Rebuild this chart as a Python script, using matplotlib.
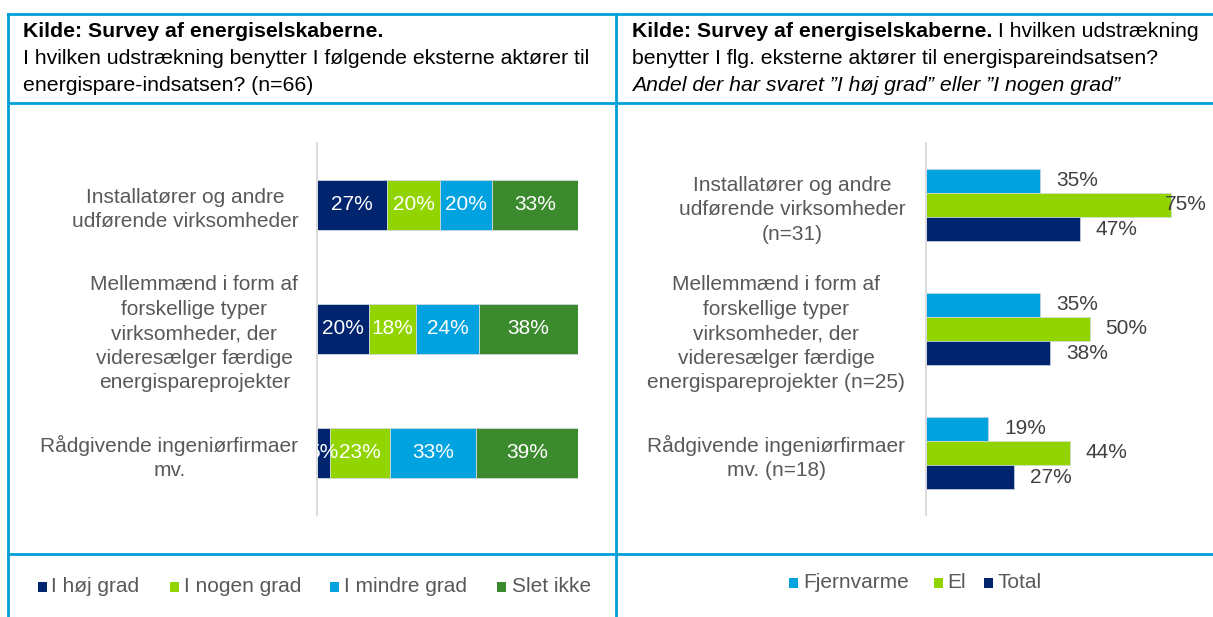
import matplotlib
matplotlib.use("Agg")
import matplotlib.pyplot as plt
from matplotlib.lines import Line2D
from matplotlib.patches import Rectangle

# ─── Data ────────────────────────────────────────────────────────────────────
left_categories = [
    "Installatører og andre\nudførende virksomheder",
    "Mellemmænd i form af\nforskellige typer\nvirksomheder, der\nvideresælger færdige\nenergispareprojekter",
    "Rådgivende ingeniørfirmaer\nmv.",
]
left_series = ["I høj grad", "I nogen grad", "I mindre grad", "Slet ikke"]
hoj_grad = [27, 20, 5]
nogen_grad = [20, 18, 23]
mindre_grad = [20, 24, 33]
slet_ikke = [33, 38, 39]

right_categories = [
    "Installatører og andre\nudførende virksomheder\n(n=31)",
    "Mellemmænd i form af\nforskellige typer\nvirksomheder, der\nvideresælger færdige\nenergispareprojekter (n=25)",
    "Rådgivende ingeniørfirmaer\nmv. (n=18)",
]
right_series = ["Fjernvarme", "El", "Total"]
fjernvarme = [35, 35, 19]
el = [75, 50, 44]
total = [47, 38, 27]

# ─── Style ───────────────────────────────────────────────────────────────────
NAVY = "#00256E"
LIME = "#92D400"
CYAN = "#00A3E0"
GREEN = "#3C8A2E"
FRAME = "#009FDA"
LABEL_GRAY = "#595959"
VALUE_GRAY = "#404040"
AXIS_GRAY = "#D9D9D9"

HEAD_FS = 15.3
CAT_FS = 15
VAL_FS = 15
LEG_FS = 15

plt.rcParams["font.family"] = ["Liberation Sans", "DejaVu Sans"]

W, H = 1213, 617
fig = plt.figure(figsize=(W / 100, H / 100), dpi=100)


def fx(x):
    return x / W


def fy(y):
    return 1 - y / H


def frame_line(x0, y0, x1, y1):
    fig.add_artist(Line2D([fx(x0), fx(x1)], [fy(y0), fy(y1)],
                          transform=fig.transFigure, color=FRAME, lw=2.0))


# ─── Frame ───────────────────────────────────────────────────────────────────
frame_line(8, 14, W, 14)
frame_line(8, 103, W, 103)
frame_line(8, 554, W, 554)
frame_line(8, 14, 8, H)
frame_line(616, 14, 616, H)

# ─── Headers ─────────────────────────────────────────────────────────────────
BASE = [37, 64, 91]
fig.text(fx(23), fy(BASE[0]), "Kilde: Survey af energiselskaberne.",
         fontsize=HEAD_FS, fontweight="bold", va="baseline", color="black")
fig.text(fx(23), fy(BASE[1]), "I hvilken udstrækning benytter I følgende eksterne aktører til",
         fontsize=HEAD_FS, va="baseline", color="black")
fig.text(fx(23), fy(BASE[2]), "energispare-indsatsen? (n=66)",
         fontsize=HEAD_FS, va="baseline", color="black")

t_bold = fig.text(fx(632), fy(BASE[0]), "Kilde: Survey af energiselskaberne.",
                  fontsize=HEAD_FS, fontweight="bold", va="baseline", color="black")
fig.text(fx(632), fy(BASE[1]), "benytter I flg. eksterne aktører til energispareindsatsen?",
         fontsize=HEAD_FS, va="baseline", color="black")
fig.text(fx(632), fy(BASE[2]), "Andel der har svaret ”I høj grad” eller ”I nogen grad”",
         fontsize=HEAD_FS, fontstyle="italic", va="baseline", color="black")

# regular continuation right after the bold part on the same baseline
fig.canvas.draw()
bb = t_bold.get_window_extent()
fig.text(bb.x1 / W, fy(BASE[0]), " I hvilken udstrækning", fontsize=HEAD_FS,
         va="baseline", color="black")

# ─── Left chart: stacked shares ──────────────────────────────────────────────
ax_l = fig.add_axes([fx(317), fy(515), (578 - 317) / W, (515 - 143) / H])
ypos = list(range(len(left_categories)))
left_cols = [NAVY, LIME, CYAN, GREEN]
starts = [0] * len(ypos)
for vals, col, name in zip([hoj_grad, nogen_grad, mindre_grad, slet_ikke],
                           left_cols, left_series):
    ax_l.barh(ypos, vals, left=starts, height=0.4, color=col,
              edgecolor="#D0D8DC", linewidth=0.6, label=name)
    for y, s, v in zip(ypos, starts, vals):
        ax_l.text(s + v / 2, y, f"{v}%", ha="center", va="center",
                  color="white", fontsize=VAL_FS, clip_on=True)
    starts = [s + v for s, v in zip(starts, vals)]

ax_l.set_xlim(0, 100)
ax_l.set_ylim(2.5, -0.5)
ax_l.set_yticks(ypos)
ax_l.set_yticklabels(left_categories, fontsize=CAT_FS, color=LABEL_GRAY,
                     linespacing=1.36)
for lbl in ax_l.get_yticklabels():
    lbl.set_multialignment("center")
ax_l.tick_params(axis="y", length=0, pad=13.5)
ax_l.set_xticks([])
for side in ["top", "right", "bottom"]:
    ax_l.spines[side].set_visible(False)
ax_l.spines["left"].set_color(AXIS_GRAY)
ax_l.spines["left"].set_linewidth(1.3)

# ─── Right chart: grouped shares ─────────────────────────────────────────────
XMAX_R = 86
ax_r = fig.add_axes([fx(926), fy(515), 3.27 * XMAX_R / W, (515 - 143) / H])
bh = 0.194
right_cols = [CYAN, LIME, NAVY]
for k, (vals, col, name) in enumerate(zip([fjernvarme, el, total],
                                          right_cols, right_series)):
    ys = [y + (k - 1) * bh for y in ypos]
    ax_r.barh(ys, vals, height=bh, color=col, edgecolor="#D0D8DC",
              linewidth=0.5, label=name)
    for y, v in zip(ys, vals):
        if v + 5 + 12 > XMAX_R:
            # no room right of the bar: keep the label inside the plot area
            ax_r.annotate(f"{v}%", xy=(XMAX_R, y), ha="right", va="center",
                          color=VALUE_GRAY, fontsize=VAL_FS, annotation_clip=False)
        else:
            ax_r.annotate(f"{v}%", xy=(v, y), xytext=(11.5, 0),
                          textcoords="offset points", ha="left", va="center",
                          color=VALUE_GRAY, fontsize=VAL_FS)

ax_r.set_xlim(0, XMAX_R)
ax_r.set_ylim(2.5, -0.5)
ax_r.set_yticks(ypos)
ax_r.set_yticklabels(right_categories, fontsize=CAT_FS, color=LABEL_GRAY,
                     linespacing=1.36)
for lbl in ax_r.get_yticklabels():
    lbl.set_multialignment("center")
ax_r.tick_params(axis="y", length=0, pad=15)
ax_r.set_xticks([])
for side in ["top", "right", "bottom"]:
    ax_r.spines[side].set_visible(False)
ax_r.spines["left"].set_color(AXIS_GRAY)
ax_r.spines["left"].set_linewidth(1.3)

# ─── Legends ─────────────────────────────────────────────────────────────────
def legend_item(x_box, x_text, y, color, label):
    fig.add_artist(Rectangle((fx(x_box), fy(y + 5)), 9 / W, 10 / H,
                             transform=fig.transFigure, facecolor=color,
                             edgecolor="none"))
    fig.text(fx(x_text), fy(y), label, fontsize=LEG_FS, color=LABEL_GRAY,
             va="center", ha="left")


for xb, xt, col, name in zip([38, 170, 330, 497], [51, 184, 344, 512],
                             left_cols, left_series):
    legend_item(xb, xt, 587, col, name)

for xb, xt, col, name in zip([789, 934, 984], [803, 947, 998],
                             right_cols, right_series):
    legend_item(xb, xt, 583, col, name)

fig.savefig("out.png", dpi=100)
